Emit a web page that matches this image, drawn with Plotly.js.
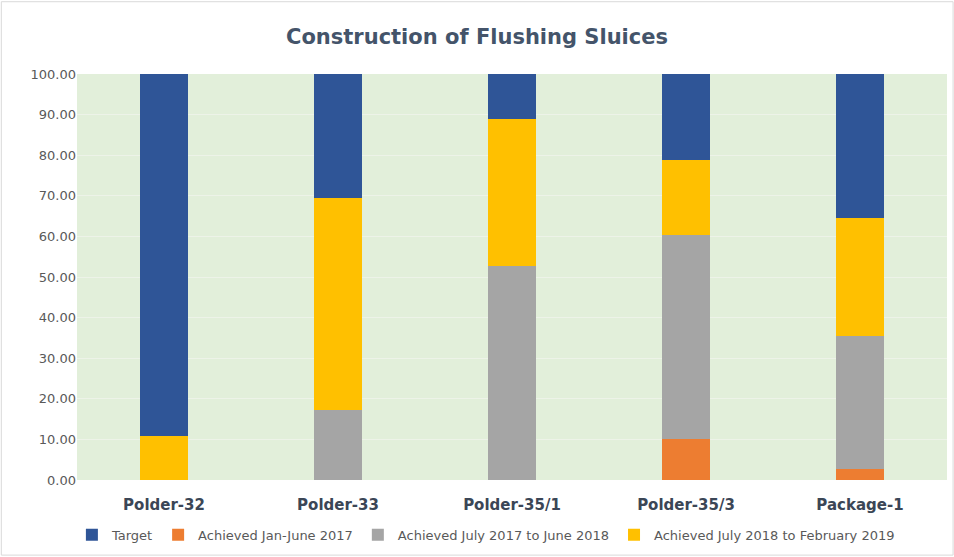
<!DOCTYPE html>
<html>
<head>
<meta charset="utf-8">
<script src="https://cdn.plot.ly/plotly-3.0.1.min.js"></script>
<style>
html,body{margin:0;padding:0;background:#fff;}
#chart{width:954px;height:557px;}
</style>
</head>
<body>
<div id="chart"></div>
<script>
var categories = ["Polder-32", "Polder-33", "Polder-35/1", "Polder-35/3", "Package-1"];
var achievedJan2017 = [0, 0, 0, 10, 2.6];
var achievedJul2017 = [0, 17.2, 52.6, 50.4, 32.8];
var achievedJul2018 = [10.9, 52.3, 36.4, 18.5, 29.2];
var target = [89.1, 30.5, 11, 21.1, 35.4];
var tickVals = [0, 10, 20, 30, 40, 50, 60, 70, 80, 90, 100];

var common = {type: "bar", x: categories, width: 0.28, hoverinfo: "y+name"};
var traces = [
  Object.assign({}, common, {name: "Achieved Jan-June 2017", y: achievedJan2017, marker: {color: "#ed7d31", line: {width: 0}}, legendrank: 2}),
  Object.assign({}, common, {name: "Achieved July 2017 to June 2018", y: achievedJul2017, marker: {color: "#a5a5a5", line: {width: 0}}, legendrank: 3}),
  Object.assign({}, common, {name: "Achieved July 2018 to February 2019", y: achievedJul2018, marker: {color: "#ffc000", line: {width: 0}}, legendrank: 4}),
  Object.assign({}, common, {name: "Target", y: target, marker: {color: "#2f5597", line: {width: 0}}, legendrank: 1})
];

var layout = {
  width: 954, height: 557,
  barmode: "stack",
  paper_bgcolor: "#ffffff",
  plot_bgcolor: "#e2efda",
  margin: {l: 77, r: 7, t: 74, b: 75},
  font: {family: "DejaVu Sans, Verdana, sans-serif", color: "#595959", size: 13},
  title: {text: "Construction of Flushing Sluices", x: 0.5, xanchor: "center", y: 0.935, yanchor: "middle",
          font: {family: "DejaVu Sans, Verdana, sans-serif", size: 21, color: "#44546a", weight: "bold"}},
  xaxis: {tickfont: {size: 15, color: "#3b4656", weight: "bold"}, showgrid: false, zeroline: false,
          ticks: "outside", ticklen: 11, tickcolor: "rgba(0,0,0,0)", fixedrange: true},
  yaxis: {range: [0, 100], tickvals: tickVals, tickformat: ".2f", showgrid: true, gridcolor: "#edf3e8", gridwidth: 1,
          zeroline: false, ticks: "", tickfont: {size: 13, color: "#595959"}, fixedrange: true},
  showlegend: true,
  legend: {orientation: "h", traceorder: "normal", x: 0.47, xanchor: "center", y: -0.135, yanchor: "middle",
           font: {size: 13, color: "#595959"}, itemwidth: 30, tracegroupgap: 0},
  shapes: [{type: "rect", xref: "paper", yref: "paper", x0: -0.087, x1: 1.007, y0: -0.185, y1: 1.178,
            line: {color: "#d9d9d9", width: 1}, fillcolor: "rgba(0,0,0,0)", layer: "below"}]
};

Plotly.newPlot("chart", traces, layout, {displayModeBar: false, staticPlot: true});
</script>
</body>
</html>
